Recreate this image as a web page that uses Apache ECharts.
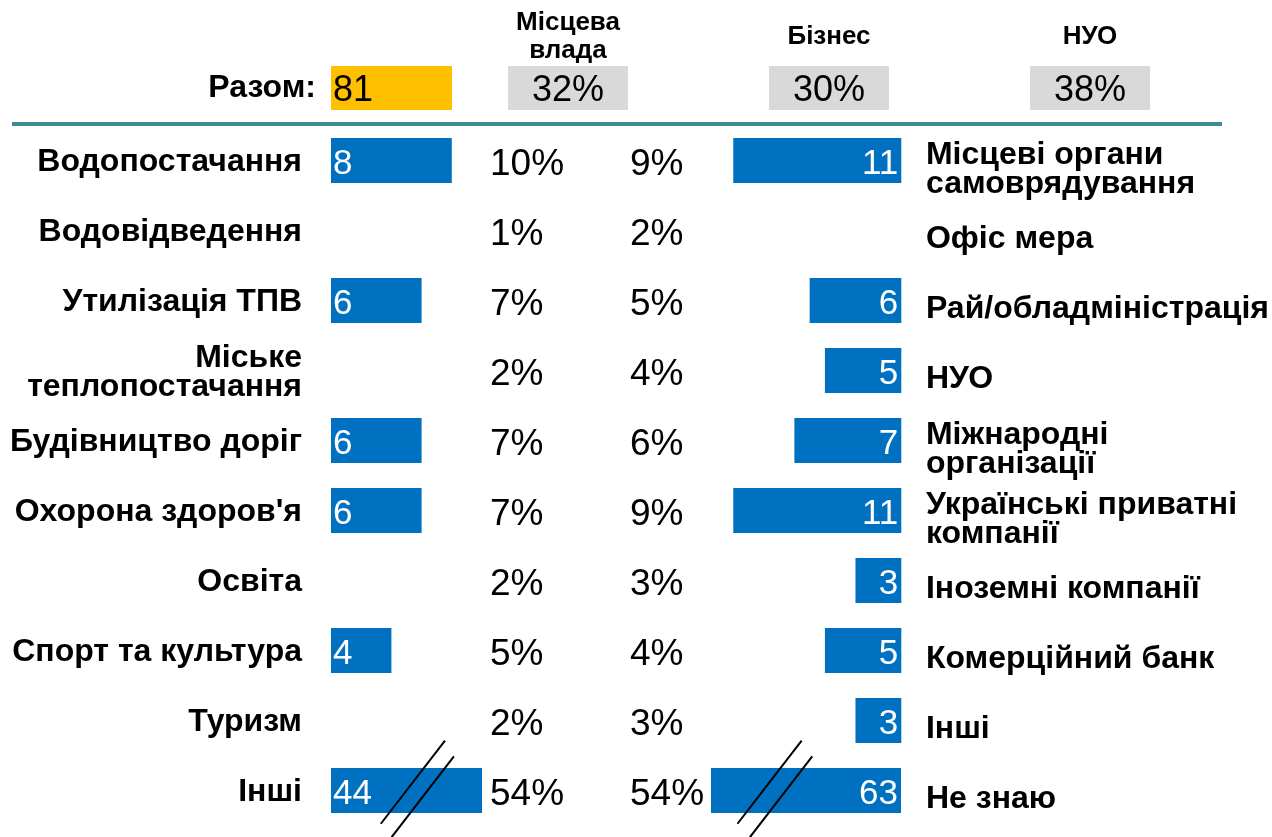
<!DOCTYPE html>
<html lang="uk">
<head>
<meta charset="utf-8">
<title>Сфери та джерела</title>
<script src="https://cdn.jsdelivr.net/npm/echarts@6/dist/echarts.min.js"></script>
<style>
  html, body { margin: 0; padding: 0; background: #ffffff; }
  #chart { width: 1272px; height: 837px; }
</style>
</head>
<body>
<div id="chart"></div>
<script>
// Sectors (left) and funding sources (right)
const sectors = ['Водопостачання', 'Водовідведення', 'Утилізація ТПВ', 'Міське\nтеплопостачання',
  'Будівництво доріг', "Охорона здоров'я", 'Освіта', 'Спорт та культура', 'Туризм', 'Інші'];
const sectorCounts = [8, null, 6, null, 6, 6, null, 4, null, 44];
const sectorShares = [10, 1, 7, 2, 7, 7, 2, 5, 2, 54];

const sources = ['Місцеві органи\nсамоврядування', 'Офіс мера', 'Рай/обладміністрація', 'НУО',
  'Міжнародні\nорганізації', 'Українські приватні\nкомпанії', 'Іноземні компанії',
  'Комерційний банк', 'Інші', 'Не знаю'];
const sourceCounts = [11, null, 6, 5, 7, 11, 3, 5, 3, 63];
const sourceShares = [9, 2, 5, 4, 6, 9, 3, 4, 3, 54];

const totalLabel = 'Разом:';
const totalCount = 81;
const groups = ['Місцева\nвлада', 'Бізнес', 'НУО'];
const groupShares = [32, 30, 38];

// broken-axis ranges for the two long bars in the last row
const sectorBreak = { start: 5, end: 40.4, gap: '14%' };
const sourceBreak = { start: 7.5, end: 59.6, gap: '12%' };

const FONT = '"Liberation Sans", Arial, Helvetica, sans-serif';
const BLUE = '#0070c0';
const YELLOW = '#ffc000';
const GREY = '#d9d9d9';
const TEAL = '#3b8d91';

const nLast = sectors.length - 1;

const catLabelBold = {
  fontFamily: FONT, fontWeight: 'bold', fontSize: 32, lineHeight: 29, color: '#000'
};
const pctLabel = { fontFamily: FONT, fontSize: 37, color: '#000' };
const barLabel = { show: true, color: '#fff', fontFamily: FONT, fontSize: 35, offset: [0, 4] };

const hiddenValueAxis = (grid, max, inverse, extra) => Object.assign({
  type: 'value', gridIndex: grid, min: 0, max: max, inverse: !!inverse, show: false,
  splitLine: { show: false }
}, extra || {});
const bareCategory = (grid, data, position, offset, label) => ({
  type: 'category', gridIndex: grid, inverse: true, data: data, position: position,
  offset: offset || 0,
  axisLine: { show: false }, axisTick: { show: false }, splitLine: { show: false },
  axisLabel: label
});

const chart = echarts.init(document.getElementById('chart'), null, { renderer: 'canvas' });

const ROW_TOP = 125.5, ROWS_H = 700;

const option = {
  backgroundColor: '#ffffff',
  animation: false,
  grid: [
    { left: 331, top: ROW_TOP, width: 151, height: ROWS_H },      // 0 sectors
    { left: 718, top: ROW_TOP, width: 183.3, height: ROWS_H },    // 1 sources
    { left: 331, top: 755.5, width: 151, height: 70 },            // 2 sectors, last row (broken axis)
    { left: 711, top: 755.5, width: 190, height: 70 },            // 3 sources, last row (broken axis)
    { left: 331, top: 66, width: 121, height: 44 },               // 4 total
    { left: 331, top: ROW_TOP + 4, width: 151, height: ROWS_H },  // 5 share columns
    { left: 718, top: ROW_TOP + 9, width: 183.3, height: ROWS_H },// 6 source names
    { left: 331, top: ROW_TOP + 2, width: 151, height: ROWS_H }   // 7 sector names
  ],
  xAxis: [
    hiddenValueAxis(0, 10, false),
    hiddenValueAxis(1, 12, true),
    hiddenValueAxis(2, sectorCounts[nLast], false, {
      breaks: [sectorBreak], breakArea: { show: false }
    }),
    hiddenValueAxis(3, sourceCounts[nLast], true, {
      breaks: [sourceBreak], breakArea: { show: false }
    }),
    hiddenValueAxis(4, totalCount, false),
    hiddenValueAxis(5, 10, false),
    hiddenValueAxis(6, 12, true),
    hiddenValueAxis(7, 10, false)
  ],
  yAxis: [
    // 0: sectors (bars)
    { type: 'category', gridIndex: 0, inverse: true, data: sectors, show: false },
    // 1: share of sectors
    bareCategory(5, sectorShares.map(String), 'right', 0,
      Object.assign({ margin: 8, align: 'left', formatter: '{value}%' }, pctLabel)),
    // 2: share of sources
    bareCategory(5, sourceShares.map(String), 'right', 140,
      Object.assign({ margin: 8, align: 'left', formatter: '{value}%' }, pctLabel)),
    // 3: sources (bars)
    { type: 'category', gridIndex: 1, inverse: true, data: sources, show: false },
    { type: 'category', gridIndex: 2, data: [sectors[nLast]], show: false },
    { type: 'category', gridIndex: 3, data: [sources[nLast]], show: false },
    // 6: total
    {
      type: 'category', gridIndex: 4, data: [totalLabel], position: 'left',
      axisLine: { show: false }, axisTick: { show: false },
      axisLabel: Object.assign({}, catLabelBold, { margin: 15 })
    },
    // 7: source names
    bareCategory(6, sources, 'right', 0, Object.assign({ margin: 29, align: 'left' }, catLabelBold)),
    // 8: sector names
    bareCategory(7, sectors, 'left', 0, Object.assign({ margin: 29, align: 'right' }, catLabelBold))
  ],
  series: [
    {
      type: 'bar', xAxisIndex: 0, yAxisIndex: 0, barWidth: 45,
      data: sectorCounts.slice(0, nLast),
      itemStyle: { color: BLUE },
      label: Object.assign({ position: 'insideLeft', distance: 2 }, barLabel)
    },
    {
      type: 'bar', xAxisIndex: 1, yAxisIndex: 3, barWidth: 45,
      data: sourceCounts.slice(0, nLast),
      itemStyle: { color: BLUE },
      label: Object.assign({ position: 'insideRight', distance: 3 }, barLabel)
    },
    {
      type: 'bar', xAxisIndex: 2, yAxisIndex: 4, barWidth: 45,
      data: sectorCounts.slice(nLast),
      itemStyle: { color: BLUE },
      label: Object.assign({ position: 'insideLeft', distance: 2 }, barLabel)
    },
    {
      type: 'bar', xAxisIndex: 3, yAxisIndex: 5, barWidth: 45,
      data: sourceCounts.slice(nLast),
      itemStyle: { color: BLUE },
      label: Object.assign({ position: 'insideRight', distance: 3 }, barLabel)
    },
    {
      type: 'bar', xAxisIndex: 4, yAxisIndex: 6, barWidth: 44,
      data: [totalCount],
      itemStyle: { color: YELLOW },
      label: Object.assign({}, barLabel, {
        position: 'insideLeft', distance: 2, color: '#000', fontSize: 36, offset: [0, 3]
      })
    }
  ]
};

// group headers with their shares in grey boxes
const groupCenters = [568, 829, 1090];
const graphics = [
  {
    type: 'line', id: 'rule', z: 10,
    shape: { x1: 12, y1: 124, x2: 1222, y2: 124 },
    style: { stroke: TEAL, lineWidth: 4 }
  }
];
groups.forEach((g, i) => {
  graphics.push({
    type: 'text', id: 'head' + i, z: 10,
    x: groupCenters[i], y: 37,
    style: {
      text: g, align: 'center', verticalAlign: 'middle',
      font: 'bold 26px ' + FONT, lineHeight: 28, fill: '#000'
    }
  });
  graphics.push({
    type: 'rect', id: 'box' + i, z: 5,
    shape: { x: groupCenters[i] - 60, y: 66, width: 120, height: 44 },
    style: { fill: GREY }
  });
  graphics.push({
    type: 'text', id: 'share' + i, z: 10,
    x: groupCenters[i], y: 91,
    style: {
      text: groupShares[i] + '%', align: 'center', verticalAlign: 'middle',
      font: '36px ' + FONT, fill: '#000'
    }
  });
});
option.graphic = graphics;

chart.setOption(option);

// break marks: two parallel slashes across each broken bar
function slashes(prefix, yAxisIndex, xUpper, xLower) {
  const yMid = chart.convertToPixel({ yAxisIndex: yAxisIndex }, 0);
  const dx = 0.611, dy = -0.792;
  const seg = (id, x, t0, t1) => ({
    type: 'line', id: id, z: 20,
    shape: { x1: x + dx * t0, y1: yMid + dy * t0, x2: x + dx * t1, y2: yMid + dy * t1 },
    style: { stroke: '#000', lineWidth: 2 }
  });
  return [seg(prefix + 'a', xUpper, -42, 63), seg(prefix + 'b', xLower, -59, 43)];
}
const lStart = chart.convertToPixel({ xAxisIndex: 2 }, sectorBreak.start);
const lEnd = chart.convertToPixel({ xAxisIndex: 2 }, sectorBreak.end);
const rStart = chart.convertToPixel({ xAxisIndex: 3 }, sourceBreak.start);
const rEnd = chart.convertToPixel({ xAxisIndex: 3 }, sourceBreak.end);
chart.setOption({
  graphic: [].concat(
    slashes('ls', 4, Math.min(lStart, lEnd), Math.max(lStart, lEnd)),
    slashes('rs', 5, Math.min(rStart, rEnd), Math.max(rStart, rEnd))
  )
});
</script>
</body>
</html>
